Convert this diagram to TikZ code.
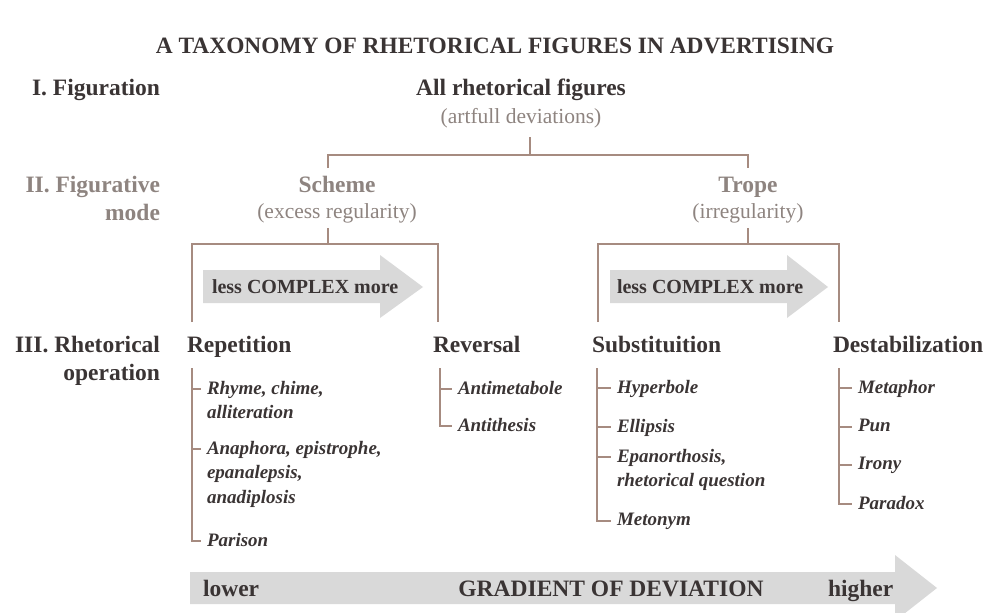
\documentclass[tikz,border=0pt]{standalone}
\usepackage{fontspec}
\setmainfont{Liberation Serif}
\usetikzlibrary{calc}
\definecolor{dark}{HTML}{3A3434}
\definecolor{soft}{HTML}{8E8480}
\definecolor{linec}{HTML}{A68B80}
\definecolor{arrowc}{HTML}{D9D9D9}
\begin{document}
\begin{tikzpicture}[x=1pt,y=-1pt,
 every node/.style={inner sep=0pt, outer sep=0pt},
 ttl/.style={font=\fontsize{23.4}{27}\selectfont\bfseries, text=dark, text height=16pt, text depth=5pt},
 lvl/.style={font=\fontsize{23.5}{28}\selectfont\bfseries, align=right},
 head/.style={font=\fontsize{23.5}{28}\selectfont\bfseries, text=dark, text height=17pt, text depth=5pt},
 modeh/.style={font=\fontsize{23.5}{28}\selectfont\bfseries, text=soft, text height=17pt, text depth=5pt},
 paren/.style={font=\fontsize{21.5}{26}\selectfont, text=soft, text height=15pt, text depth=5pt},
 item/.style={font=\fontsize{19}{24.5}\selectfont\bfseries\itshape, text=dark, align=left, anchor=north west},
 arrtxt/.style={font=\fontsize{20}{24}\selectfont\bfseries, text=dark, text height=14pt, text depth=4pt},
 tree/.style={draw=linec, line width=1.3pt},
 band/.style={fill=arrowc},
]
\useasboundingbox (0,0) rectangle (988,613);
\clip (0,0) rectangle (988,613);

% title
\node[ttl] (title) at (495,48) {A TAXONOMY OF RHETORICAL FIGURES IN ADVERTISING};

% level labels
\node[lvl, text=dark, anchor=east, text height=17pt, text depth=5pt] (l1) at (160,89) {I. Figuration};
\node[lvl, text=soft, anchor=north east] (l2) at (160,176) {II. Figurative\\mode};
\node[lvl, text=dark, anchor=north east] (l3) at (160,336) {III. Rhetorical\\operation};

% top levels
\node[head] (all) at (521,89) {All rhetorical figures};
\node[paren] (allp) at (521,118) {(artfull deviations)};
\node[modeh] (scheme) at (337,186) {Scheme};
\node[paren] (schemep) at (337,213) {(excess regularity)};
\node[modeh] (trope) at (748,186) {Trope};
\node[paren] (tropep) at (748,213) {(irregularity)};

% brackets
\coordinate (a0) at (530,137);
\coordinate (a1) at (530,155);
\coordinate (sL) at (328,168);
\coordinate (tR) at (748,168);
\draw[tree] (a0) -- (a1);
\draw[tree] (sL) |- (a1) -| (tR);

\coordinate (s0) at (328,228);
\coordinate (s1) at (328,244);
\coordinate (sA) at (192,322);
\coordinate (sB) at (438,322);
\draw[tree] (s0) -- (s1);
\draw[tree] (sA) |- (s1) -| (sB);

\coordinate (t0) at (748,228);
\coordinate (t1) at (748,244);
\coordinate (tA) at (598,322);
\coordinate (tB) at (839,322);
\draw[tree] (t0) -- (t1);
\draw[tree] (tA) |- (t1) -| (tB);

% complexity arrows
\fill[band] (203,270) -- (380,270) -- (380,255) -- (423,287) -- (380,318) -- (380,303) -- (203,303) -- cycle;
\node[arrtxt, anchor=west] (cx1) at (212,288) {less COMPLEX more};
\fill[band] (610,270) -- (787,270) -- (787,255) -- (828,287) -- (787,318) -- (787,303) -- (610,303) -- cycle;
\node[arrtxt, anchor=west] (cx2) at (617,288) {less COMPLEX more};

% operations
\node[head, anchor=west] (rep) at (187,346) {Repetition};
\node[head, anchor=west] (rev) at (433,346) {Reversal};
\node[head, anchor=west] (sub) at (592,346) {Substituition};
\node[head, anchor=west] (des) at (833,346) {Destabilization};

% items
\node[item] (r1) at (207,381) {Rhyme, chime,\\alliteration};
\node[item] (r2) at (207,441) {Anaphora, epistrophe,\\epanalepsis,\\anadiplosis};
\node[item] (r3) at (207,533) {Parison};
\draw[tree] ($(r1.north west)+(-15,-13)$) |- ($(r3.north west)+(-6,8)$);
\draw[tree] ($(r1.north west)+(-15,8)$) -- ($(r1.north west)+(-6,8)$);
\draw[tree] ($(r2.north west)+(-15,8)$) -- ($(r2.north west)+(-6,8)$);

\node[item] (v1) at (458,381) {Antimetabole};
\node[item] (v2) at (458,418) {Antithesis};
\draw[tree] ($(v1.north west)+(-18,-13)$) |- ($(v2.north west)+(-6,8)$);
\draw[tree] ($(v1.north west)+(-18,8)$) -- ($(v1.north west)+(-6,8)$);

\node[item] (s1i) at (617,380) {Hyperbole};
\node[item] (s2i) at (617,419) {Ellipsis};
\node[item] (s3i) at (617,449) {Epanorthosis,\\rhetorical question};
\node[item] (s4i) at (617,513) {Metonym};
\draw[tree] ($(s1i.north west)+(-20,-12)$) |- ($(s4i.north west)+(-6,8)$);
\draw[tree] ($(s1i.north west)+(-20,8)$) -- ($(s1i.north west)+(-6,8)$);
\draw[tree] ($(s2i.north west)+(-20,8)$) -- ($(s2i.north west)+(-6,8)$);
\draw[tree] ($(s3i.north west)+(-20,8)$) -- ($(s3i.north west)+(-6,8)$);

\node[item] (d1) at (858,380) {Metaphor};
\node[item] (d2) at (858,419) {Pun};
\node[item] (d3) at (858,457) {Irony};
\node[item] (d4) at (858,496) {Paradox};
\draw[tree] ($(d1.north west)+(-19,-12)$) |- ($(d4.north west)+(-6,8)$);
\draw[tree] ($(d1.north west)+(-19,8)$) -- ($(d1.north west)+(-6,8)$);
\draw[tree] ($(d2.north west)+(-19,8)$) -- ($(d2.north west)+(-6,8)$);
\draw[tree] ($(d3.north west)+(-19,8)$) -- ($(d3.north west)+(-6,8)$);

% gradient arrow
\fill[band] (190,572) -- (895,572) -- (895,555) -- (937,588) -- (895,621) -- (895,604) -- (190,604) -- cycle;
\node[head, anchor=west] (lo) at (203,590) {lower};
\node[head] (grad) at (611,590) {GRADIENT OF DEVIATION};
\node[head, anchor=west] (hi) at (828,590) {higher};
\end{tikzpicture}
\end{document}
